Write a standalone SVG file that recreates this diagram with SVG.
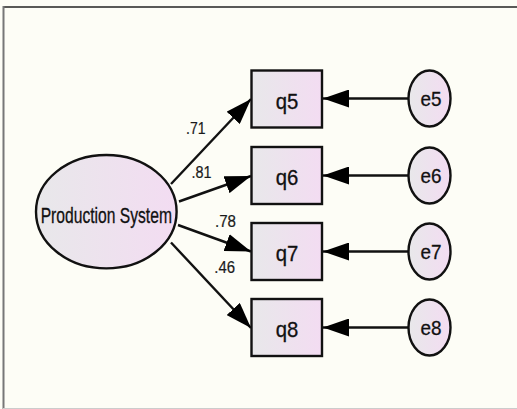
<svg xmlns="http://www.w3.org/2000/svg" width="517" height="409" viewBox="0 0 517 409">
  <defs>
    <linearGradient id="fillGrad" x1="0" y1="0" x2="1" y2="0">
      <stop offset="0" stop-color="#e8e8ea"/>
      <stop offset="1" stop-color="#f3dcf2"/>
    </linearGradient>
    <marker id="arrow" markerUnits="userSpaceOnUse" markerWidth="26" markerHeight="18" refX="26" refY="9" orient="auto">
      <path d="M0,0 L26,9 L0,18 z" fill="#000"/>
    </marker>
    <style>
      .shape { fill: url(#fillGrad); stroke: #111; stroke-width: 2.4; }
      .conn { stroke: #111; stroke-width: 2.4; fill: none; marker-end: url(#arrow); }
      .lbl { font-family: "Liberation Sans", Arial, sans-serif; fill: #111; stroke: #111; stroke-width: 0.3; text-anchor: middle; }
      .obs { font-size: 22px; }
      .err { font-size: 21px; }
      .coef { font-family: "Liberation Sans", Arial, sans-serif; font-size: 16px; fill: #1a1a1a; stroke: #1a1a1a; stroke-width: 0.2; }
    </style>
  </defs>

  <!-- canvas -->
  <rect x="0" y="0" width="517" height="409" fill="#fdfdf6"/>
  <line x1="3" y1="7" x2="517" y2="7" stroke="#222" stroke-width="1.6"/>
  <line x1="3.5" y1="6" x2="3.5" y2="409" stroke="#777" stroke-width="2"/>
  <line x1="3" y1="408.5" x2="517" y2="408.5" stroke="#ccc" stroke-width="1"/>

  <!-- connectors -->
  <g id="connectors">
    <line class="conn" x1="171" y1="184" x2="251" y2="99"/>
    <line class="conn" x1="179" y1="201.5" x2="251" y2="176"/>
    <line class="conn" x1="178" y1="225" x2="251" y2="251.5"/>
    <line class="conn" x1="171" y1="242.5" x2="251" y2="328"/>
    <line class="conn" x1="408.5" y1="98.5" x2="323" y2="98.5"/>
    <line class="conn" x1="408.5" y1="175.5" x2="323" y2="175.5"/>
    <line class="conn" x1="408.5" y1="251.5" x2="323" y2="251.5"/>
    <line class="conn" x1="408.5" y1="327.5" x2="323" y2="327.5"/>
  </g>

  <!-- loading coefficients -->
  <g id="coefficients">
    <text class="coef" x="186" y="134" textLength="19.5" lengthAdjust="spacingAndGlyphs">.71</text>
    <text class="coef" x="191.5" y="178.3" textLength="20" lengthAdjust="spacingAndGlyphs">.81</text>
    <text class="coef" x="215" y="226.7" textLength="21" lengthAdjust="spacingAndGlyphs">.78</text>
    <text class="coef" x="214.3" y="273.3" textLength="20.7" lengthAdjust="spacingAndGlyphs">.46</text>
  </g>

  <!-- latent factor; label narrowed horizontally to fit the ellipse -->
  <g id="production-system">
    <ellipse class="shape" cx="106.3" cy="211.7" rx="70.3" ry="56.7"/>
    <text class="lbl" x="0" y="0" font-size="21.5" transform="translate(106.3,222.5) scale(0.728,1)">Production System</text>
  </g>

  <!-- observed indicators -->
  <g id="q5">
    <rect class="shape" x="251.5" y="70.5" width="70.5" height="57"/>
    <text class="lbl obs" x="287" y="108.5" textLength="22.6" lengthAdjust="spacingAndGlyphs">q5</text>
  </g>
  <g id="q6">
    <rect class="shape" x="251.5" y="147" width="70.5" height="57"/>
    <text class="lbl obs" x="287" y="185" textLength="22.6" lengthAdjust="spacingAndGlyphs">q6</text>
  </g>
  <g id="q7">
    <rect class="shape" x="251.5" y="223" width="70.5" height="57"/>
    <text class="lbl obs" x="287" y="261" textLength="22.6" lengthAdjust="spacingAndGlyphs">q7</text>
  </g>
  <g id="q8">
    <rect class="shape" x="251.5" y="299" width="70.5" height="57"/>
    <text class="lbl obs" x="287" y="337" textLength="22.6" lengthAdjust="spacingAndGlyphs">q8</text>
  </g>

  <!-- error terms -->
  <g id="e5">
    <ellipse class="shape" cx="429.5" cy="98.5" rx="21" ry="28"/>
    <text class="lbl err" x="431" y="105.5" textLength="21" lengthAdjust="spacingAndGlyphs">e5</text>
  </g>
  <g id="e6">
    <ellipse class="shape" cx="429.5" cy="175.5" rx="21" ry="28"/>
    <text class="lbl err" x="431" y="182.5" textLength="21" lengthAdjust="spacingAndGlyphs">e6</text>
  </g>
  <g id="e7">
    <ellipse class="shape" cx="429.5" cy="251.5" rx="21" ry="28"/>
    <text class="lbl err" x="431" y="258.5" textLength="21" lengthAdjust="spacingAndGlyphs">e7</text>
  </g>
  <g id="e8">
    <ellipse class="shape" cx="429.5" cy="327.5" rx="21" ry="28"/>
    <text class="lbl err" x="431" y="334.5" textLength="21" lengthAdjust="spacingAndGlyphs">e8</text>
  </g>
</svg>
